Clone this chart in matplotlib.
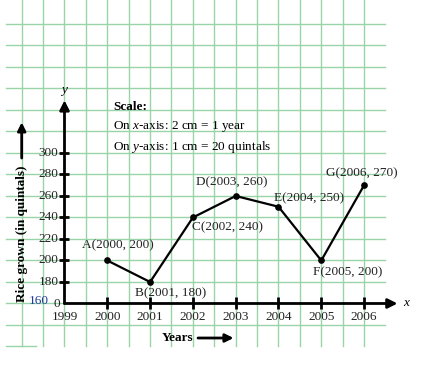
import matplotlib.pyplot as plt

# Data
years = [2000, 2001, 2002, 2003, 2004, 2005, 2006]
rice = [200, 180, 240, 260, 250, 200, 270]
point_names = ["A", "B", "C", "D", "E", "F", "G"]
x_ticks = [1999, 2000, 2001, 2002, 2003, 2004, 2005, 2006]
y_ticks = [180, 200, 220, 240, 260, 280, 300]

plt.rcParams["font.family"] = "Liberation Serif"
plt.rcParams["mathtext.fontset"] = "custom"
plt.rcParams["mathtext.rm"] = "Liberation Serif"
plt.rcParams["mathtext.it"] = "Liberation Serif:italic"
plt.rcParams["mathtext.bf"] = "Liberation Serif:bold"

fig = plt.figure(figsize=(4.27, 3.66), dpi=100)
ax = fig.add_axes([0, 0, 1, 1])
ax.set_xlim(1997.493, 2007.47)
ax.set_ylim(101.86, 442.3)
ax.axis("off")

fs = 9.5
grid_color = "#99d3a8"

# graph paper
for k in range(17):
    gx = 1998 + 0.5 * k
    ax.plot([gx, gx], [120.5, 442.3], color=grid_color, lw=1.0, zorder=0)
for k in range(16):
    gy = 120 + 20 * k
    # bottom line only runs under the left margin
    right_end = 1998.34 if gy == 120 else 2006.49
    ax.plot([1997.63, right_end], [gy, gy], color=grid_color, lw=1.0, zorder=0)

# axes with arrows
ax.annotate("", xy=(2006.78, 160), xytext=(1999, 160),
            arrowprops=dict(arrowstyle="-|>", color="black", lw=2.0,
                            mutation_scale=14, shrinkA=0, shrinkB=0))
ax.annotate("", xy=(1999, 349), xytext=(1999, 160),
            arrowprops=dict(arrowstyle="-|>", color="black", lw=2.0,
                            mutation_scale=14, shrinkA=0, shrinkB=0))
ax.text(2006.98, 160, "x", style="italic", fontsize=fs, ha="center", va="center")
ax.text(1999, 359, "y", style="italic", fontsize=fs, ha="center", va="center")

# tick marks and labels
ax.plot(x_ticks[1:], [160] * (len(x_ticks) - 1), ls="none", marker="|",
        color="black", markersize=8, markeredgewidth=2)
ax.plot([1999] * len(y_ticks), y_ticks, ls="none", marker="_",
        color="black", markersize=7, markeredgewidth=2)
for t in x_ticks:
    ax.text(t, 147.2, str(t), fontsize=fs, ha="center", va="center", color="#222222")
for t in y_ticks:
    ax.text(1998.86, t, str(t), fontsize=fs, ha="right", va="center", color="#222222")
ax.text(1998.82, 159.6, "0", fontsize=fs, ha="center", va="center", color="#222222")
ax.text(1998.39, 162.3, "160", fontsize=fs, ha="center", va="center", color="#1f3c9e")

# data line
ax.plot(years, rice, color="black", lw=1.6, marker="o", markersize=3.8, zorder=3)

label_pos = {
    "A": ((7.6, 11.2), "center"),
    "B": ((15, -8), "center"),
    "C": ((-1, -7), "left"),
    "D": ((-2.5, 10), "center"),
    "E": ((-3, 5.8), "left"),
    "F": ((18.7, -8.3), "center"),
    "G": ((-1.4, 8.6), "center"),
}
for name, yr, val in zip(point_names, years, rice):
    off, ha = label_pos[name]
    ax.annotate(f"{name}({yr}, {val})", xy=(yr, val), xytext=off,
                textcoords="offset points", fontsize=fs, ha=ha, va="center",
                color="#222222")

# scale note
ax.text(2000.13, 342.8, "Scale:", fontsize=fs, fontweight="bold", va="center")
ax.text(2000.13, 324.2, "On $x$-axis: 2 cm = 1 year", fontsize=fs, va="center")
ax.text(2000.13, 305.6, "On $y$-axis: 1 cm = 20 quintals", fontsize=fs, va="center")

# axis titles
ax.text(1998.0, 225.1, "Rice grown (in quintals)", fontsize=fs, fontweight="bold",
        rotation=90, ha="center", va="center")
ax.annotate("", xy=(1998.0, 328.5), xytext=(1998.0, 295.3),
            arrowprops=dict(arrowstyle="-|>", color="black", lw=2.0,
                            mutation_scale=12, shrinkA=0, shrinkB=0))
ax.text(2001.65, 127.9, "Years", fontsize=fs, fontweight="bold", ha="center", va="center")
ax.annotate("", xy=(2002.95, 127.9), xytext=(2002.12, 127.9),
            arrowprops=dict(arrowstyle="-|>", color="black", lw=2.0,
                            mutation_scale=12, shrinkA=0, shrinkB=0))

fig.savefig("out.png", dpi=100)
